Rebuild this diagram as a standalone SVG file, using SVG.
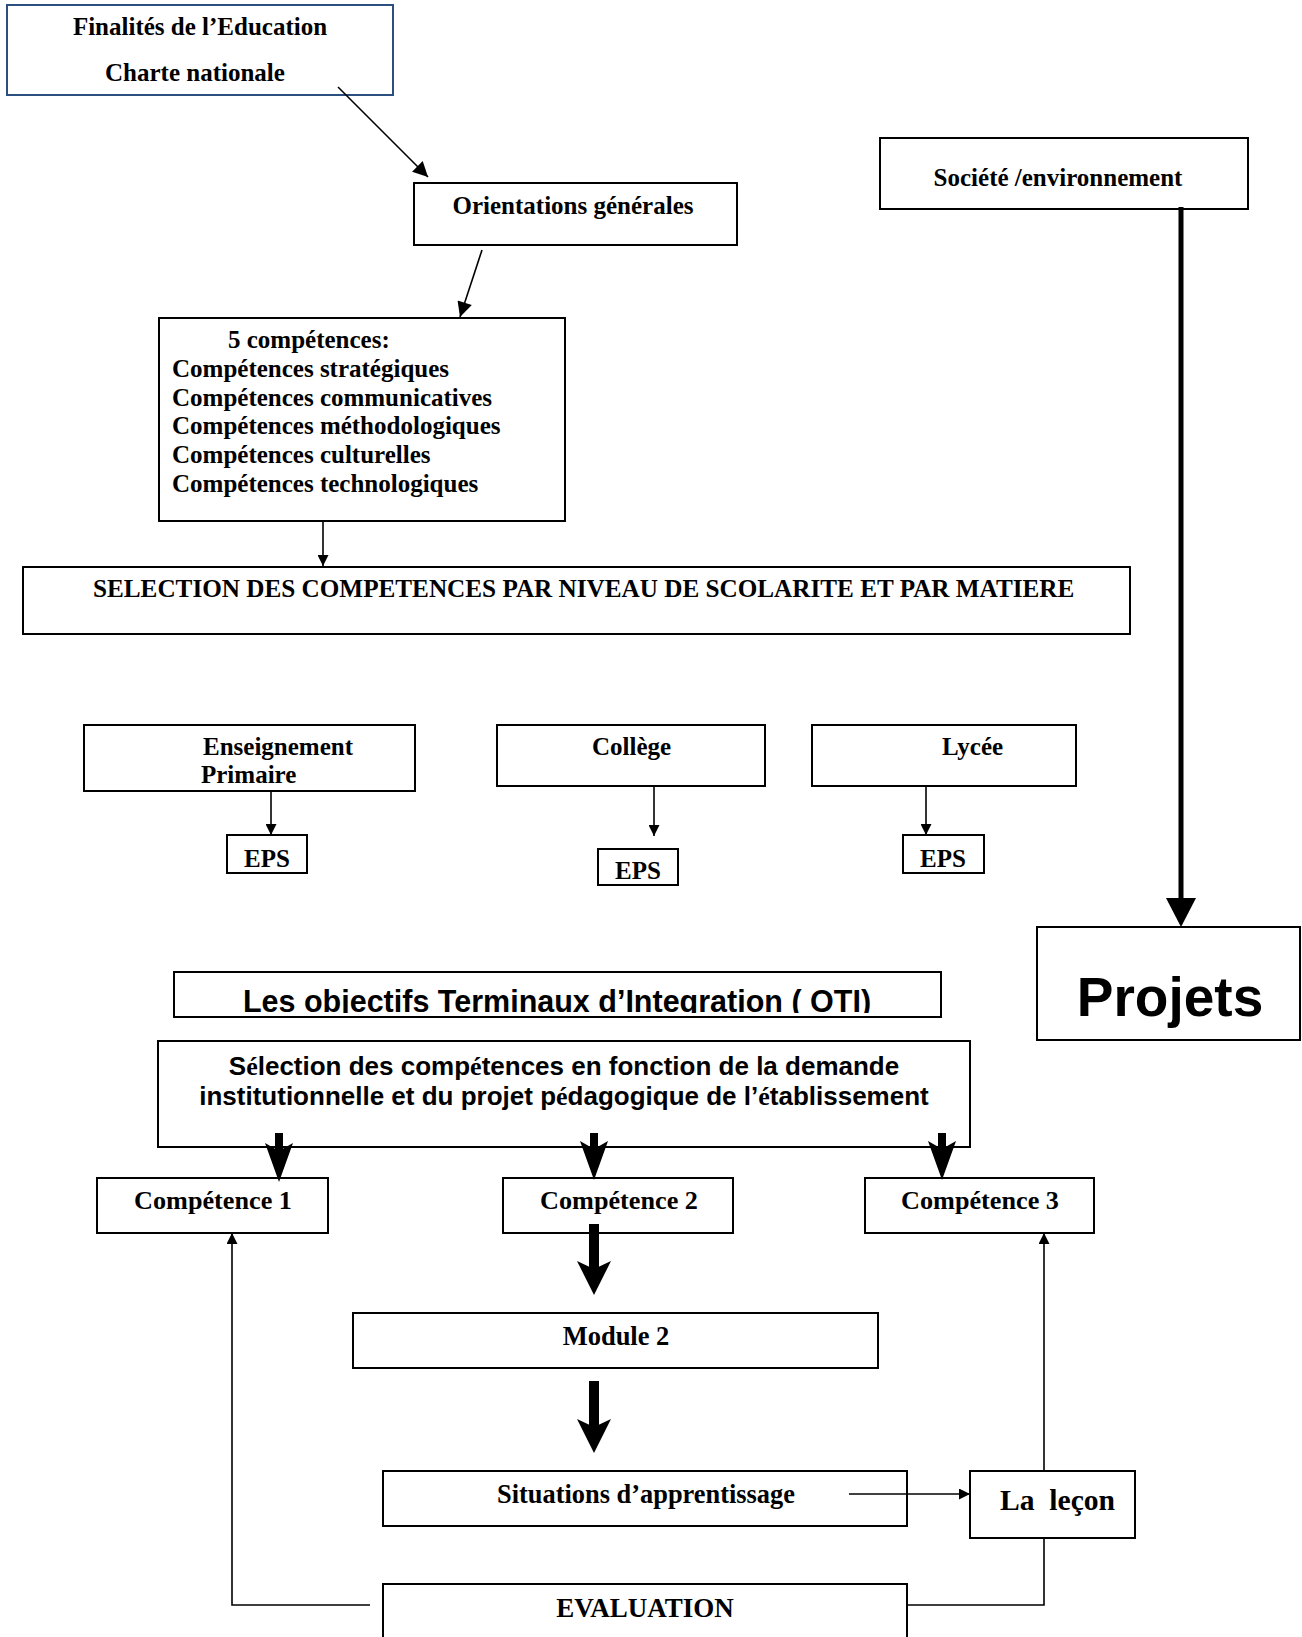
<svg xmlns="http://www.w3.org/2000/svg" width="1302" height="1637" viewBox="0 0 1302 1637">
<style>
.box{fill:#fff;stroke:#000;stroke-width:2}
.t{font-family:"Liberation Serif","Times New Roman",serif;font-weight:bold;font-size:25px;fill:#000}
.a{font-family:"Liberation Sans",Arial,sans-serif;font-weight:bold;fill:#000}
.s{font-family:"Liberation Serif","Times New Roman",serif}
.ln{stroke:#000;stroke-width:1.6;fill:none}
.fat{fill:#000;stroke:none}
</style>
<defs>
<marker id="ah" viewBox="0 0 10 10" refX="10" refY="5" markerUnits="userSpaceOnUse" markerWidth="17" markerHeight="15" orient="auto"><path d="M0,0 L10,5 L0,10 z" fill="#000"/></marker>
<marker id="ahs" viewBox="0 0 10 10" refX="10" refY="5" markerUnits="userSpaceOnUse" markerWidth="15" markerHeight="11" orient="auto"><path d="M0,0 L10,5 L0,10 z" fill="#000"/></marker>
<clipPath id="otiClip"><rect x="174" y="972" width="767" height="41"/></clipPath>
</defs>

<g id="finalites">
<rect x="7" y="5" width="386" height="90" fill="#fff" stroke="#2b4f7e" stroke-width="2"/>
<text class="t" x="200" y="35" text-anchor="middle">Finalités de l’Education</text>
<text class="t" x="195" y="81" text-anchor="middle">Charte nationale</text>
</g>

<g id="orientations">
<rect class="box" x="414" y="183" width="323" height="62"/>
<text class="t" x="573" y="214" text-anchor="middle">Orientations générales</text>
</g>

<g id="societe">
<rect class="box" x="880" y="138" width="368" height="71"/>
<text class="t" x="1058" y="186" text-anchor="middle">Société /environnement</text>
</g>

<g id="competences5">
<rect class="box" x="159" y="318" width="406" height="203"/>
<text class="t" x="228" y="348">5 compétences:</text>
<text class="t" x="172" y="377">Compétences stratégiques</text>
<text class="t" x="172" y="406">Compétences communicatives</text>
<text class="t" x="172" y="434">Compétences méthodologiques</text>
<text class="t" x="172" y="463">Compétences culturelles</text>
<text class="t" x="172" y="492">Compétences technologiques</text>
</g>

<g id="selection">
<rect class="box" x="23" y="567" width="1107" height="67"/>
<text class="t" x="93" y="597" style="font-size:25.2px">SELECTION DES COMPETENCES PAR NIVEAU DE SCOLARITE ET PAR MATIERE</text>
</g>

<g id="primaire">
<rect class="box" x="84" y="725" width="331" height="66"/>
<text class="t" x="203" y="755">Enseignement</text>
<text class="t" x="201" y="783">Primaire</text>
</g>
<g id="college">
<rect class="box" x="497" y="725" width="268" height="61"/>
<text class="t" x="592" y="755">Collège</text>
</g>
<g id="lycee">
<rect class="box" x="812" y="725" width="264" height="61"/>
<text class="t" x="942" y="755">Lycée</text>
</g>

<g id="eps1">
<rect class="box" x="227" y="835" width="80" height="38"/>
<text class="t" x="267" y="867" text-anchor="middle">EPS</text>
</g>
<g id="eps2">
<rect class="box" x="598" y="849" width="80" height="36"/>
<text class="t" x="638" y="879" text-anchor="middle">EPS</text>
</g>
<g id="eps3">
<rect class="box" x="903" y="835" width="81" height="38"/>
<text class="t" x="943" y="867" text-anchor="middle">EPS</text>
</g>

<g id="projets">
<rect class="box" x="1037" y="927" width="263" height="113"/>
<text class="a" x="1170" y="1016" font-size="55" text-anchor="middle">Projets</text>
</g>

<g id="oti">
<rect class="box" x="174" y="972" width="767" height="45"/>
<text class="a" x="557" y="1012" font-size="30.5" text-anchor="middle" clip-path="url(#otiClip)">Les objectifs Terminaux d’Integration ( OTI)</text>
</g>

<g id="selection-demande">
<rect class="box" x="158" y="1041" width="812" height="106"/>
<text class="a" x="564" y="1075" font-size="26" text-anchor="middle">S<tspan class="s">é</tspan>lection des comp<tspan class="s">é</tspan>tences en fonction de la demande</text>
<text class="a" x="564" y="1105" font-size="26" text-anchor="middle">institutionnelle et du projet p<tspan class="s">é</tspan>dagogique de l’<tspan class="s">é</tspan>tablissement</text>
</g>

<g id="competence1">
<rect class="box" x="97" y="1178" width="231" height="55"/>
<text class="t" x="213" y="1209" style="font-size:26.2px" text-anchor="middle">Compétence 1</text>
</g>
<g id="competence2">
<rect class="box" x="503" y="1178" width="230" height="55"/>
<text class="t" x="619" y="1209" style="font-size:26.2px" text-anchor="middle">Compétence 2</text>
</g>
<g id="competence3">
<rect class="box" x="865" y="1178" width="229" height="55"/>
<text class="t" x="980" y="1209" style="font-size:26.2px" text-anchor="middle">Compétence 3</text>
</g>

<g id="module2">
<rect class="box" x="353" y="1313" width="525" height="55"/>
<text class="t" x="616" y="1345" style="font-size:26.5px" text-anchor="middle">Module 2</text>
</g>

<g id="situations">
<rect class="box" x="383" y="1471" width="524" height="55"/>
<text class="t" x="646" y="1503" style="font-size:26.4px" text-anchor="middle">Situations d’apprentissage</text>
</g>

<g id="lecon">
<rect class="box" x="970" y="1471" width="165" height="67"/>
<text class="t" x="1000" y="1510" style="font-size:29.6px" xml:space="preserve">La  leçon</text>
</g>

<g id="evaluation">
<rect class="box" x="383" y="1584" width="524" height="60"/>
<text class="t" x="645" y="1617" style="font-size:27px" text-anchor="middle">EVALUATION</text>
</g>

<g id="connectors">
<line class="ln" x1="338" y1="87" x2="428" y2="177" marker-end="url(#ah)"/>
<line class="ln" x1="482" y1="250" x2="460" y2="317" marker-end="url(#ah)"/>
<line class="ln" x1="323" y1="521" x2="323" y2="566" marker-end="url(#ahs)"/>
<line class="ln" x1="271" y1="791" x2="271" y2="835" marker-end="url(#ahs)"/>
<line class="ln" x1="654" y1="786" x2="654" y2="836" marker-end="url(#ahs)"/>
<line class="ln" x1="926" y1="786" x2="926" y2="835" marker-end="url(#ahs)"/>
<!-- Société -> Projets -->
<rect class="fat" x="1178.5" y="207" width="5" height="693"/>
<path class="fat" d="M1181,927 L1166,898 L1196,898 Z"/>
<!-- Sélection -> compétences -->
<rect class="fat" x="275" y="1133" width="8" height="20"/>
<path class="fat" d="M279,1182 L265,1143 L279,1151 L293,1143 Z"/>
<rect class="fat" x="590" y="1133" width="8" height="20"/>
<path class="fat" d="M594,1180 L580,1141 L594,1149 L608,1141 Z"/>
<rect class="fat" x="938" y="1133" width="8" height="20"/>
<path class="fat" d="M942,1180 L928,1141 L942,1149 L956,1141 Z"/>
<!-- Compétence 2 -> Module 2 -->
<rect class="fat" x="589" y="1224" width="10" height="46"/>
<path class="fat" d="M594,1295 L577,1261 L594,1269 L611,1261 Z"/>
<!-- Module 2 -> Situations -->
<rect class="fat" x="589" y="1381" width="10" height="46"/>
<path class="fat" d="M594,1453 L577,1419 L594,1427 L611,1419 Z"/>
<!-- Situations -> La leçon -->
<line class="ln" x1="849" y1="1494" x2="970" y2="1494" marker-end="url(#ahs)"/>
<!-- La leçon -> Compétence 3 -->
<line class="ln" x1="1044" y1="1471" x2="1044" y2="1233" marker-end="url(#ahs)"/>
<!-- La leçon -> Evaluation -->
<polyline class="ln" points="1044,1538 1044,1605 907,1605"/>
<!-- Evaluation -> Compétence 1 -->
<polyline class="ln" points="370,1605 232,1605 232,1233" marker-end="url(#ahs)"/>
</g>
</svg>
